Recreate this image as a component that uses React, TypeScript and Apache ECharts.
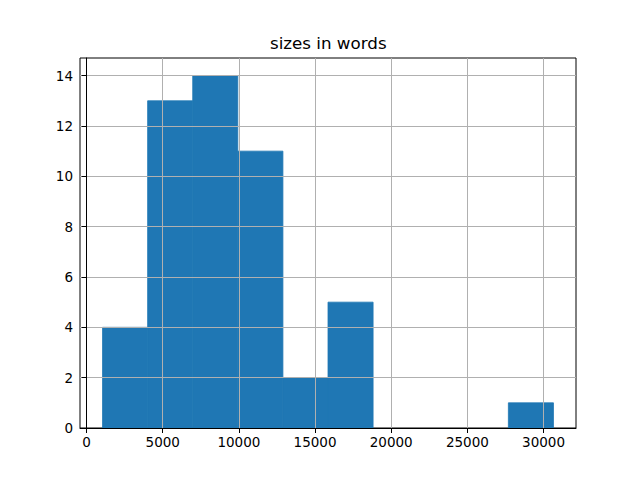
import React, { useEffect, useRef } from "react";
import * as echarts from "echarts";

const binEdges = [1050, 4010, 6970, 9930, 12890, 15850, 18810, 21770, 24730, 27690, 30650];
const counts = [4, 13, 14, 11, 2, 5, 0, 0, 0, 1];
const xTicks = [0, 5000, 10000, 15000, 20000, 25000, 30000];
const yTicks = [0, 2, 4, 6, 8, 10, 12, 14];
const title = "sizes in words";

export default function App() {
  const ref = useRef<HTMLDivElement>(null);
  useEffect(() => {
    if (!ref.current) return;
    const chart = echarts.init(ref.current, undefined, { renderer: "svg" });
    const span = binEdges[binEdges.length - 1] - binEdges[0];
    const xMin = binEdges[0] - span * 0.05;
    const xMax = binEdges[binEdges.length - 1] + span * 0.05;
    const yMax = Math.max(...counts) * 1.05;
    const data = counts.map((c, i) => [binEdges[i], binEdges[i + 1], c]);
    const font = "DejaVu Sans";
    chart.setOption({
      animation: false,
      title: {
        text: title,
        left: 270,
        top: 34,
        padding: 0,
        textStyle: { fontFamily: font, fontSize: 16.7, fontWeight: "normal", color: "#000" },
      },
      grid: {
        left: 80,
        right: 64,
        top: 58,
        bottom: 52,
        show: true,
        borderColor: "#000",
        borderWidth: 1,
        backgroundColor: "transparent",
      },
      xAxis: {
        type: "value",
        min: xMin,
        max: xMax,
        z: 5,
        axisLine: { show: true, onZero: false, lineStyle: { color: "#000", width: 1 } },
        axisTick: { show: true, length: 5, customValues: xTicks, lineStyle: { color: "#000" } },
        axisLabel: {
          customValues: xTicks,
          formatter: (v: number) => String(v),
          color: "#000",
          fontFamily: font,
          fontSize: 13.5,
          margin: 7,
          showMinLabel: true,
          showMaxLabel: true,
        },
        splitLine: { show: true, lineStyle: { color: "#b0b0b0", width: 1 } },
      },
      yAxis: {
        type: "value",
        min: 0,
        max: yMax,
        z: 5,
        axisLine: { show: true, lineStyle: { color: "#000", width: 1 } },
        axisTick: { show: true, length: 5, customValues: yTicks, lineStyle: { color: "#000" } },
        axisLabel: {
          customValues: yTicks,
          formatter: (v: number) => String(v),
          color: "#000",
          fontFamily: font,
          fontSize: 13.5,
          margin: 7,
        },
        splitLine: { show: true, lineStyle: { color: "#b0b0b0", width: 1 } },
      },
      series: [
        {
          type: "custom",
          z: 1,
          data,
          encode: { x: [0, 1], y: 2 },
          renderItem: (params: any, api: any) => {
            const c = api.value(2);
            if (!c) return null;
            const p0 = api.coord([api.value(0), c]);
            const p1 = api.coord([api.value(1), 0]);
            return {
              type: "rect",
              shape: { x: p0[0], y: p0[1], width: p1[0] - p0[0], height: p1[1] - p0[1] },
              style: { fill: "#1f77b4", stroke: "#1f77b4", lineWidth: 0.8 },
            };
          },
        },
      ],
    });
    return () => chart.dispose();
  }, []);
  return <div ref={ref} style={{ width: 640, height: 480, position: "absolute", left: 0, top: 0 }} />;
}
